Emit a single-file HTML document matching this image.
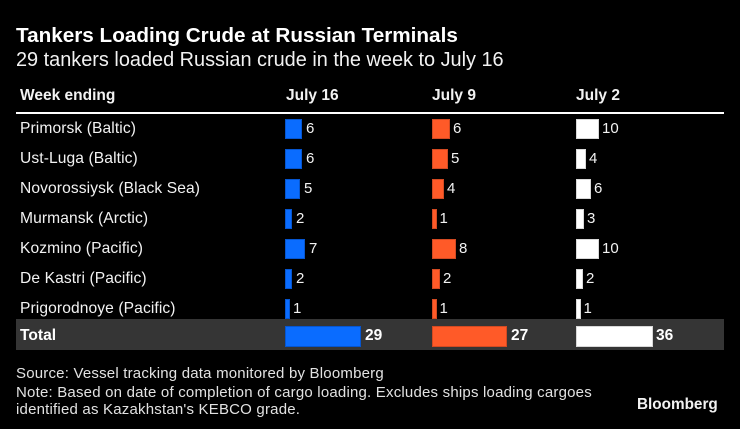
<!DOCTYPE html>
<html>
<head>
<meta charset="utf-8">
<style>
  html,body{margin:0;padding:0;background:#000;}
  body{width:740px;height:429px;position:relative;overflow:hidden;font-family:"Liberation Sans",Arial,sans-serif;color:#f2f2f2;}
  .a{position:absolute;white-space:nowrap;}
  .t{line-height:1;}
  .bar{position:absolute;height:20px;box-sizing:border-box;}
  .b{background:#0a6cff;border:1px solid #0656d0;}
  .o{background:#ff5a28;border:1px solid #d24a22;}
  .w{background:#ffffff;border:1px solid #d8d8d8;}
  .lbl{font-size:15.6px;letter-spacing:0.1px;}
  .val{font-size:15px;}
  .hd{font-size:15.5px;font-weight:bold;}
  .ft{font-size:15px;letter-spacing:0.2px;color:#e2e2e2;}
</style>
</head>
<body>
  <div class="a t" style="left:16px;top:25.5px;font-size:20.7px;font-weight:bold;color:#fff;">Tankers Loading Crude at Russian Terminals</div>
  <div class="a t" style="left:16px;top:50.5px;font-size:19.9px;color:#f2f2f2;">29 tankers loaded Russian crude in the week to July 16</div>

  <div class="a t hd" style="left:20px;top:87.5px;">Week ending</div>
  <div class="a t hd" style="left:286px;top:87.5px;">July 16</div>
  <div class="a t hd" style="left:432px;top:87.5px;">July 9</div>
  <div class="a t hd" style="left:576px;top:87.5px;">July 2</div>

  <div class="a" style="left:16px;top:111.5px;width:708px;height:2px;background:#fff;"></div>

  <!-- row labels -->
  <div class="a t lbl" style="left:20px;top:120.5px;">Primorsk (Baltic)</div>
  <div class="a t lbl" style="left:20px;top:150.5px;">Ust-Luga (Baltic)</div>
  <div class="a t lbl" style="left:20px;top:180.5px;">Novorossiysk (Black Sea)</div>
  <div class="a t lbl" style="left:20px;top:210.5px;">Murmansk (Arctic)</div>
  <div class="a t lbl" style="left:20px;top:240.5px;">Kozmino (Pacific)</div>
  <div class="a t lbl" style="left:20px;top:270.5px;">De Kastri (Pacific)</div>
  <div class="a t lbl" style="left:20px;top:300.5px;">Prigorodnoye (Pacific)</div>

  <!-- total band -->
  <div class="a" style="left:16px;top:319px;width:708px;height:31px;background:#353535;"></div>
  <div class="a t" style="left:20px;top:327.5px;font-size:15.6px;font-weight:bold;color:#fff;">Total</div>

  <!-- July 16 -->
  <div class="bar b" style="left:285px;top:118.5px;width:17px;"></div>
  <div class="a t val" style="left:306px;top:121px;">6</div>
  <div class="bar b" style="left:285px;top:148.5px;width:17px;"></div>
  <div class="a t val" style="left:306px;top:151px;">6</div>
  <div class="bar b" style="left:285px;top:178.5px;width:15px;"></div>
  <div class="a t val" style="left:304px;top:181px;">5</div>
  <div class="bar b" style="left:285px;top:208.5px;width:7px;"></div>
  <div class="a t val" style="left:296px;top:211px;">2</div>
  <div class="bar b" style="left:285px;top:238.5px;width:20px;"></div>
  <div class="a t val" style="left:309px;top:241px;">7</div>
  <div class="bar b" style="left:285px;top:268.5px;width:7px;"></div>
  <div class="a t val" style="left:296px;top:271px;">2</div>
  <div class="bar b" style="left:285px;top:298.5px;width:5px;"></div>
  <div class="a t val" style="left:293px;top:301px;">1</div>
  <div class="bar b" style="left:285px;top:326px;width:76px;height:21px;"></div>
  <div class="a t" style="left:365px;top:328px;font-size:15.5px;font-weight:bold;color:#fff;">29</div>

  <!-- July 9 -->
  <div class="bar o" style="left:431.5px;top:118.5px;width:18px;"></div>
  <div class="a t val" style="left:453px;top:121px;">6</div>
  <div class="bar o" style="left:431.5px;top:148.5px;width:16px;"></div>
  <div class="a t val" style="left:451px;top:151px;">5</div>
  <div class="bar o" style="left:431.5px;top:178.5px;width:12px;"></div>
  <div class="a t val" style="left:447px;top:181px;">4</div>
  <div class="bar o" style="left:431.5px;top:208.5px;width:5px;"></div>
  <div class="a t val" style="left:439.5px;top:211px;">1</div>
  <div class="bar o" style="left:431.5px;top:238.5px;width:24px;"></div>
  <div class="a t val" style="left:459px;top:241px;">8</div>
  <div class="bar o" style="left:431.5px;top:268.5px;width:8px;"></div>
  <div class="a t val" style="left:443px;top:271px;">2</div>
  <div class="bar o" style="left:431.5px;top:298.5px;width:5px;"></div>
  <div class="a t val" style="left:439.5px;top:301px;">1</div>
  <div class="bar o" style="left:431.5px;top:326px;width:75.5px;height:21px;"></div>
  <div class="a t" style="left:511px;top:328px;font-size:15.5px;font-weight:bold;color:#fff;">27</div>

  <!-- July 2 -->
  <div class="bar w" style="left:575.5px;top:118.5px;width:23px;"></div>
  <div class="a t val" style="left:602px;top:121px;">10</div>
  <div class="bar w" style="left:575.5px;top:148.5px;width:10px;"></div>
  <div class="a t val" style="left:589px;top:151px;">4</div>
  <div class="bar w" style="left:575.5px;top:178.5px;width:15px;"></div>
  <div class="a t val" style="left:594px;top:181px;">6</div>
  <div class="bar w" style="left:575.5px;top:208.5px;width:8px;"></div>
  <div class="a t val" style="left:587px;top:211px;">3</div>
  <div class="bar w" style="left:575.5px;top:238.5px;width:23px;"></div>
  <div class="a t val" style="left:602px;top:241px;">10</div>
  <div class="bar w" style="left:575.5px;top:268.5px;width:7px;"></div>
  <div class="a t val" style="left:586px;top:271px;">2</div>
  <div class="bar w" style="left:575.5px;top:298.5px;width:5px;"></div>
  <div class="a t val" style="left:583.5px;top:301px;">1</div>
  <div class="bar w" style="left:575.5px;top:326px;width:77px;height:21px;"></div>
  <div class="a t" style="left:656px;top:328px;font-size:15.5px;font-weight:bold;color:#fff;">36</div>

  <!-- footer -->
  <div class="a t ft" style="left:16px;top:366px;">Source: Vessel tracking data monitored by Bloomberg</div>
  <div class="a t ft" style="left:16px;top:385px;">Note: Based on date of completion of cargo loading. Excludes ships loading cargoes</div>
  <div class="a t ft" style="left:16px;top:401.5px;">identified as Kazakhstan's KEBCO grade.</div>

  <div class="a t" style="left:637px;top:396.5px;font-size:15.3px;font-weight:bold;color:#f2f2f2;">Bloomberg</div>
</body>
</html>
